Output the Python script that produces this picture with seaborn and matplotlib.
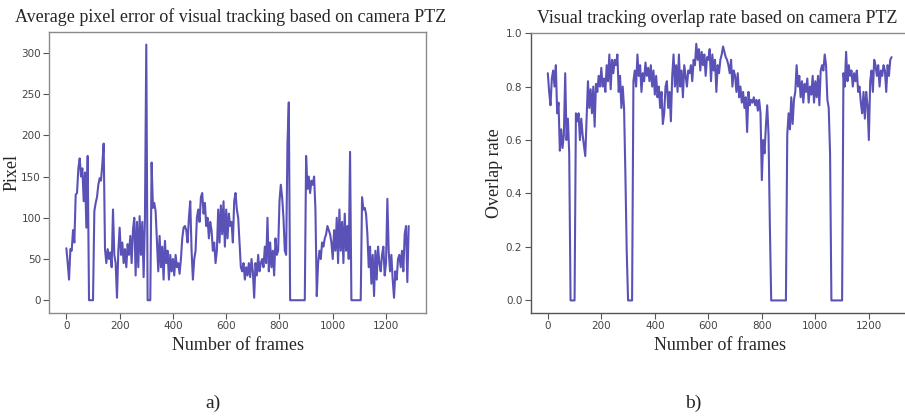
import numpy as np
import pandas as pd
import matplotlib
matplotlib.use("Agg")
import matplotlib.pyplot as plt
import seaborn as sns

# ---------------- data (one value every 5 frames) -------------
frame_step = 5
pixel_error = [
    63, 45, 25, 62, 60, 85, 70, 128, 130, 160,
    172, 150, 160, 120, 155, 88, 175, 0, 0, 0,
    0, 108, 118, 125, 140, 148, 145, 165, 190, 62,
    45, 62, 50, 58, 40, 110, 55, 45, 3, 60,
    88, 55, 70, 45, 62, 40, 68, 55, 78, 45,
    85, 100, 30, 95, 40, 102, 55, 95, 28, 100,
    310, 0, 0, 0, 167, 112, 118, 108, 70, 35,
    78, 40, 65, 25, 72, 45, 60, 25, 55, 35,
    50, 30, 55, 40, 45, 32, 50, 75, 88, 90,
    85, 70, 100, 120, 60, 25, 50, 60, 100, 110,
    95, 125, 130, 105, 118, 90, 100, 75, 95, 85,
    60, 70, 45, 60, 110, 70, 115, 80, 120, 65,
    110, 75, 105, 90, 95, 70, 120, 130, 110, 100,
    70, 40, 35, 45, 25, 40, 30, 45, 28, 50,
    35, 3, 45, 30, 55, 35, 45, 50, 40, 65,
    45, 100, 35, 70, 40, 60, 30, 75, 55, 60,
    120, 140, 125, 100, 60, 55, 190, 240, 0, 0,
    0, 0, 0, 0, 0, 0, 0, 0, 0, 0,
    175, 135, 150, 130, 145, 140, 150, 110, 5, 45,
    60, 50, 70, 65, 75, 80, 90, 85, 80, 70,
    50, 85, 60, 100, 45, 110, 60, 95, 45, 105,
    60, 90, 50, 180, 0, 0, 0, 0, 0, 0,
    0, 0, 125, 110, 112, 105, 80, 40, 65, 20,
    55, 5, 60, 25, 65, 45, 35, 55, 65, 30,
    45, 123, 60, 35, 55, 25, 3, 35, 25, 50,
    55, 40, 60, 35, 80, 90, 22, 90,
]
overlap_rate = [
    .85, .78, .73, .83, .86, .80, .88, .70, .74, .56,
    .64, .57, .62, .85, .60, .68, .55, 0, 0, 0,
    0, .70, .67, .70, .60, .68, .62, .58, .54, .68,
    .82, .72, .79, .70, .80, .65, .81, .78, .84, .80,
    .87, .80, .83, .78, .88, .82, .92, .79, .90, .85,
    .90, .88, .92, .78, .84, .72, .80, .72, .47, .18,
    0, 0, 0, 0, .82, .86, .80, .92, .84, .88,
    .78, .85, .82, .89, .84, .87, .82, .88, .80, .86,
    .77, .84, .76, .80, .72, .78, .66, .70, .80, .82,
    .72, .78, .67, .84, .92, .80, .88, .78, .92, .80,
    .86, .76, .88, .84, .80, .86, .85, .88, .82, .90,
    .88, .96, .90, .94, .86, .93, .88, .92, .84, .91,
    .90, .94, .82, .92, .86, .90, .78, .88, .85, .90,
    .92, .95, .93, .91, .90, .88, .85, .90, .80, .86,
    .84, .78, .85, .76, .80, .74, .78, .72, .76, .63,
    .78, .73, .75, .74, .76, .73, .75, .71, .75, .70,
    .45, .60, .55, .65, .73, .62, .28, 0, 0, 0,
    0, 0, 0, 0, 0, 0, 0, 0, 0, .62,
    .70, .64, .76, .66, .75, .78, .88, .80, .84, .76,
    .82, .74, .81, .78, .83, .74, .80, .77, .84, .74,
    .82, .76, .84, .73, .86, .88, .86, .92, .88, .75,
    .72, .55, 0, 0, 0, 0, 0, 0, 0, 0,
    0, .85, .80, .93, .82, .88, .84, .86, .80, .85,
    .82, .86, .78, .80, .74, .70, .78, .68, .78, .73,
    .60, .82, .86, .78, .90, .88, .84, .88, .80, .86,
    .84, .88, .86, .78, .88, .84, .90, .91,
]
x_ticks = [0, 200, 400, 600, 800, 1000, 1200]
title_a = "Average pixel error of visual tracking based on camera PTZ"
title_b = "Visual tracking overlap rate based on camera PTZ"
xlabel = "Number of frames"
ylabel_a = "Pixel"
ylabel_b = "Overlap rate"
panel_labels = ["a)", "b)"]

df_a = pd.DataFrame({"frame": np.arange(len(pixel_error)) * frame_step, "value": pixel_error})
df_b = pd.DataFrame({"frame": np.arange(len(overlap_rate)) * frame_step, "value": overlap_rate})

# ---------------- style ----------------
sns.set_style("white")
plt.rcParams["font.family"] = ["DejaVu Sans"]
serif = ["Liberation Serif", "DejaVu Serif"]
line_color = "#5a52b6"

fig = plt.figure(figsize=(9.05, 4.19), dpi=100)
ax_a = fig.add_axes([0.0545, 0.253, 0.4162, 0.671])
ax_b = fig.add_axes([0.5864, 0.253, 0.418, 0.668])

for ax, df in ((ax_a, df_a), (ax_b, df_b)):
    sns.lineplot(data=df, x="frame", y="value", ax=ax, color=line_color,
                 linewidth=1.5, estimator=None)
    ax.set_xticks(x_ticks)
    ax.tick_params(axis="both", direction="out", length=4, width=0.8,
                   labelsize=7.5, labelcolor="#444444", color="#555555", pad=2,
                   bottom=True, left=True)
    ax.set_xlim(-64, 1350)

ax_a.set_ylim(-15.5, 325.5)
ax_a.set_yticks([0, 50, 100, 150, 200, 250, 300])
ax_b.set_ylim(-0.047, 1.0)
ax_b.set_yticks([0.0, 0.2, 0.4, 0.6, 0.8, 1.0])

for sp in ax_a.spines.values():
    sp.set_color("#8a8a8a")
    sp.set_linewidth(1.0)
for name, sp in ax_b.spines.items():
    sp.set_linewidth(1.0)
    sp.set_color("#555555" if name in ("left", "bottom") else "#8a8a8a")

ax_a.set_title(title_a, family=serif, fontsize=13, pad=7, x=0.482)
ax_b.set_title(title_b, family=serif, fontsize=13, pad=7, x=0.492)
ax_a.set_xlabel(xlabel, family=serif, fontsize=13, labelpad=4)
ax_b.set_xlabel(xlabel, family=serif, fontsize=13, labelpad=4)
ax_a.set_ylabel(ylabel_a, family=serif, fontsize=13)
ax_b.set_ylabel(ylabel_b, family=serif, fontsize=13)
ax_a.yaxis.set_label_coords(-0.076, 0.5)
ax_b.yaxis.set_label_coords(-0.073, 0.5)

fig.text(213 / 905, 1 - 403 / 419, panel_labels[0], family=serif, fontsize=14,
         ha="center", va="center")
fig.text(693 / 905, 1 - 403 / 419, panel_labels[1], family=serif, fontsize=14,
         ha="center", va="center")

fig.savefig("out.png", dpi=100)
